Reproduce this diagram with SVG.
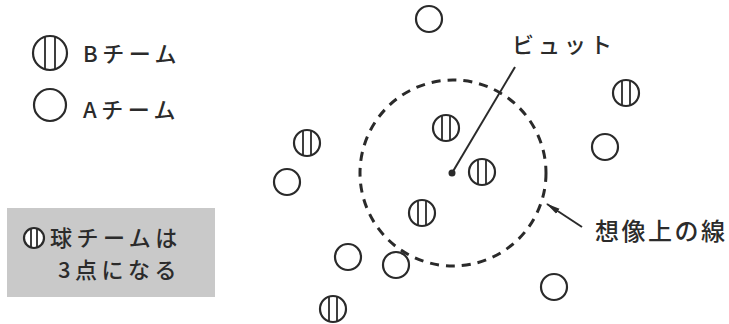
<svg xmlns="http://www.w3.org/2000/svg" width="729" height="324" viewBox="0 0 729 324">
  <style>
    .bg { fill: #ffffff; }
    .ring { fill: #ffffff; stroke: #2a2a2a; stroke-width: 2.2; }
    .stripe { stroke: #2a2a2a; stroke-width: 1.8; }
    .lbl { font-family: "Noto Sans CJK JP", "Noto Sans", sans-serif; font-size: 22px; font-weight: 500; fill: #2b2b2b; letter-spacing: 4.5px; }
    .guide { fill: none; stroke: #2a2a2a; stroke-width: 3; stroke-dasharray: 9 7; }
    .wire { stroke: #2a2a2a; stroke-width: 2; fill: none; }
  </style>
  <defs>
    <g id="teamA"><circle class="ring" r="13"/></g>
    <g id="teamB"><circle class="ring" r="13"/><line class="stripe" x1="-4" y1="-12" x2="-4" y2="12"/><line class="stripe" x1="4" y1="-12" x2="4" y2="12"/></g>
    <marker id="arrow" markerWidth="14" markerHeight="8" refX="13" refY="4" orient="auto" markerUnits="userSpaceOnUse">
      <path d="M0,1 L14,4 L0,7 Z" fill="#2a2a2a"/>
    </marker>
  </defs>
  <rect class="bg" width="729" height="324"/>

  <g id="legend-b">
    <circle class="ring" cx="50" cy="53" r="17"/>
    <line class="stripe" x1="45" y1="37" x2="45" y2="69"/>
    <line class="stripe" x1="55" y1="37" x2="55" y2="69"/>
    <text class="lbl" x="83" y="62">Bチーム</text>
  </g>
  <g id="legend-a">
    <circle class="ring" cx="50" cy="105" r="16"/>
    <text class="lbl" x="83" y="118">Aチーム</text>
  </g>

  <g id="note">
    <rect x="7" y="208" width="208" height="89" fill="#c9c9c9"/>
    <circle class="ring" cx="34" cy="238" r="10"/>
    <line class="stripe" x1="31" y1="229" x2="31" y2="247"/>
    <line class="stripe" x1="37" y1="229" x2="37" y2="247"/>
    <text class="lbl" x="50" y="246">球チームは</text>
    <text class="lbl" x="58" y="278">3点になる</text>
  </g>

  <g id="connectors">
    <circle id="imaginary-line" class="guide" cx="453" cy="173" r="93"/>
    <line class="wire" x1="452" y1="173" x2="515" y2="67"/>
    <line class="wire" x1="582" y1="227" x2="547" y2="204" marker-end="url(#arrow)"/>
  </g>

  <g id="pivot">
    <circle cx="452" cy="173" r="3.5" fill="#2a2a2a"/>
    <text class="lbl" x="512" y="53" style="letter-spacing:4px">ビュット</text>
  </g>
  <g id="label-line">
    <text class="lbl" x="595" y="240" style="font-size:24px;letter-spacing:2.5px">想像上の線</text>
  </g>

  <g id="a1"><use href="#teamA" x="429" y="19"/></g>
  <g id="a2"><use href="#teamA" x="287" y="182"/></g>
  <g id="a3"><use href="#teamA" x="348" y="257"/></g>
  <g id="a4"><use href="#teamA" x="396" y="265"/></g>
  <g id="a5"><use href="#teamA" x="605" y="147"/></g>
  <g id="a6"><use href="#teamA" x="554" y="287"/></g>

  <g id="b1"><use href="#teamB" x="307" y="143"/></g>
  <g id="b2"><use href="#teamB" x="446" y="128"/></g>
  <g id="b3"><use href="#teamB" x="482" y="172"/></g>
  <g id="b4"><use href="#teamB" x="422" y="213"/></g>
  <g id="b5"><use href="#teamB" x="333" y="309"/></g>
  <g id="b6"><use href="#teamB" x="626" y="93"/></g>
</svg>
